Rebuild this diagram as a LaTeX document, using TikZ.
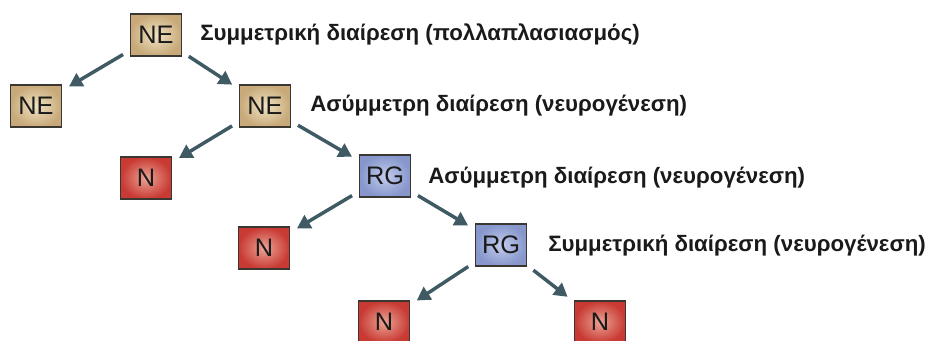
\documentclass[tikz,border=0pt]{standalone}
\usepackage{fontspec}
\setmainfont{Liberation Sans}
\usetikzlibrary{arrows.meta,shadings}
\definecolor{neIn}{HTML}{F0E2C2}
\definecolor{neOut}{HTML}{C8AA7A}
\definecolor{nIn}{HTML}{EBA395}
\definecolor{nOut}{HTML}{C83A33}
\definecolor{rgIn}{HTML}{C2CCEC}
\definecolor{rgOut}{HTML}{8797CC}
\definecolor{boxline}{HTML}{3A3632}
\definecolor{arrowcol}{HTML}{405A64}
\definecolor{txt}{HTML}{1A1A1A}
\tikzset{
  cell/.style={draw=boxline, line width=1.1pt, minimum width=38pt, minimum height=31.5pt,
    inner sep=0pt, font=\fontsize{19}{19}\selectfont, text=txt},
  necell/.style={cell, inner color=neIn, outer color=neOut},
  ncell/.style={cell, inner color=nIn, outer color=nOut},
  rgcell/.style={cell, inner color=rgIn, outer color=rgOut},
  caption/.style={anchor=west, inner sep=0pt, font=\bfseries\fontsize{16.7}{16.7}\selectfont, text=txt},
  arr/.style={draw=arrowcol, line width=2.6pt, -{Triangle[length=10pt,width=11pt]},
    shorten <=6pt, shorten >=6pt}
}
\begin{document}
\begin{tikzpicture}[x=0.75pt,y=-0.75pt]
\useasboundingbox (0,0) rectangle (925,340);
\clip (0,0) rectangle (925,340);
\fill[white] (0,0) rectangle (925,340);

% cells
\node[necell] (netop) at (156,35) {NE};
\node[necell] (neleft) at (36,106) {NE};
\node[necell] (nemid) at (265,106) {NE};
\node[ncell] (na) at (146,178) {N};
\node[rgcell] (rga) at (385,176) {RG};
\node[ncell] (nb) at (264,248) {N};
\node[rgcell] (rgb) at (501,245) {RG};
\node[ncell] (nc) at (384,322) {N};
\node[ncell] (nd) at (600,322) {N};

% division labels
\node[caption] (ta) at (200,34) {Συμμετρική διαίρεση (πολλαπλασιασμός)};
\node[caption] (tb) at (310,106) {Ασύμμετρη διαίρεση (νευρογένεση)};
\node[caption] (tc) at (428,178) {Ασύμμετρη διαίρεση (νευρογένεση)};
\node[caption] (td) at (548,246) {Συμμετρική διαίρεση (νευρογένεση)};

% lineage arrows
\draw[arr] (netop) -- (neleft);
\draw[arr] (netop) -- (nemid);
\draw[arr] (nemid) -- (na);
\draw[arr] (nemid) -- (rga);
\draw[arr] (rga) -- (nb);
\draw[arr] (rga) -- (rgb);
\draw[arr] (rgb) -- (nc);
\draw[arr] (rgb) -- (nd);
\end{tikzpicture}
\end{document}
